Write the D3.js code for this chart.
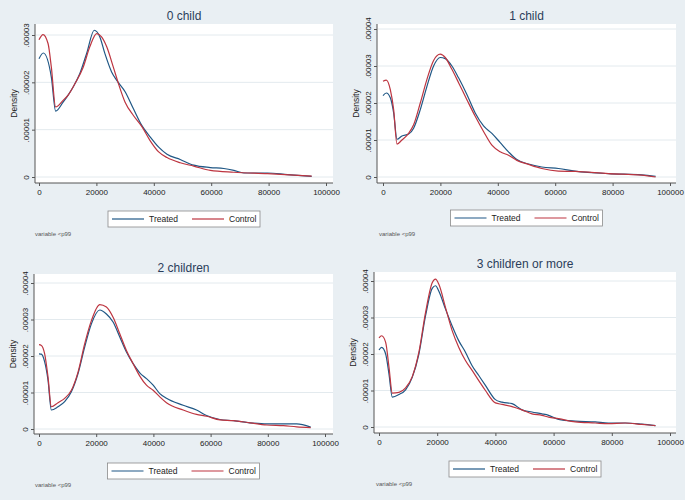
<!DOCTYPE html>
<html>
<head>
<meta charset="utf-8">
<script src="https://cdn.jsdelivr.net/npm/d3@7"></script>
<style>
  html, body { margin: 0; padding: 0; background: #e9eff3; }
  svg { display: block; font-family: "Liberation Sans", Arial, sans-serif; }
</style>
</head>
<body>
<svg id="chart" width="685" height="500"></svg>
<script>
// ---------- DATA (density values in units of 0.00001) ----------
const panelTitles = ["0 child", "1 child", "2 children", "3 children or more"];
const seriesNames = ["Treated", "Control"];
const noteText = "variable <p99";
const xTicks = [0, 20000, 40000, 60000, 80000, 100000];
const yTicksP1 = [0, 0.00001, 0.00002, 0.00003];
const yTicksP234 = [0, 0.00001, 0.00002, 0.00003, 0.00004];
const yTickLabels = {0: "0", 0.00001: ".00001", 0.00002: ".00002", 0.00003: ".00003", 0.00004: ".00004"};
const DENSITY_UNIT = 0.00001;

// Panel 1: 0 child
const incomeP1T = [0,1500,4300,5800,8400,10150,11900,14200,16600,19250,21200,23000,25300,27100,30000,32900,35800,38700,41700,44600,49200,53900,59700,64400,67900,71400,79600,86600,95000];
const treatedP1 = [2.50,2.62,2.11,1.39,1.58,1.73,1.90,2.18,2.61,3.10,2.96,2.60,2.22,2.04,1.80,1.44,1.09,0.85,0.63,0.48,0.37,0.25,0.20,0.18,0.14,0.085,0.085,0.05,0.015];
const incomeP1C = [0,1400,3150,4300,5800,8400,10150,12500,15400,17700,20100,21800,23600,25900,27700,30000,32900,35800,38700,41700,44600,49200,53900,59700,67900,79600,95000];
const controlP1 = [2.90,3.01,2.82,2.32,1.48,1.62,1.73,1.97,2.32,2.75,3.03,2.96,2.75,2.32,1.97,1.58,1.30,1.07,0.77,0.53,0.41,0.30,0.23,0.14,0.10,0.07,0.02];

// Panel 2: 1 child
const incomeP2 = [0,1160,2550,3710,4870,6610,8930,10670,12990,15310,17630,19950,21690,24010,26330,29230,32130,35030,37940,40840,43730,46640,50700,55340,61140,66940,78540,90140,95000];
const treatedP2 = [2.20,2.27,2.14,1.73,1.02,1.11,1.16,1.32,1.82,2.45,3.00,3.23,3.20,3.00,2.68,2.23,1.73,1.38,1.18,0.93,0.68,0.47,0.35,0.27,0.23,0.16,0.09,0.06,0.02];
const controlP2 = [2.59,2.62,2.36,1.82,0.89,1.00,1.18,1.41,2.00,2.64,3.15,3.32,3.23,2.91,2.55,2.09,1.64,1.23,0.86,0.68,0.59,0.45,0.34,0.23,0.16,0.15,0.09,0.05,0.00];

// Panel 3: 2 children
const incomeP3 = [0,820,1980,3150,4320,6650,8980,11320,13650,15990,18320,21240,23570,25900,28240,30570,32910,35240,37570,39910,42240,44570,50410,55080,58580,63250,67930,73770,79600,85430,90090,95000];
const treatedP3 = [2.06,2.05,1.84,1.34,0.52,0.61,0.75,1.02,1.52,2.25,2.88,3.26,3.15,2.93,2.52,2.11,1.79,1.54,1.38,1.20,0.97,0.84,0.65,0.52,0.37,0.26,0.23,0.17,0.14,0.14,0.14,0.05];
const controlP3 = [2.31,2.29,2.06,1.43,0.61,0.72,0.84,1.06,1.56,2.34,2.97,3.41,3.34,3.06,2.61,2.15,1.79,1.45,1.20,1.06,0.88,0.72,0.52,0.40,0.35,0.25,0.23,0.17,0.11,0.09,0.06,0.04];

// Panel 4: 3 children or more
const incomeP4 = [0,910,2290,3430,4570,6860,9140,11430,13710,16000,18290,19430,20570,22860,25140,27430,29710,32000,34290,36570,40000,42290,45710,49140,52570,56000,58290,61710,67430,74290,78860,84570,90290,95000];
const treatedP4 = [2.11,2.18,2.00,1.45,0.82,0.89,1.02,1.36,2.00,3.05,3.80,3.87,3.72,3.23,2.77,2.36,2.05,1.68,1.41,1.14,0.75,0.68,0.64,0.47,0.41,0.36,0.32,0.21,0.16,0.14,0.11,0.11,0.08,0.04];
const controlP4 = [2.44,2.50,2.32,1.64,0.93,0.95,1.07,1.38,2.05,3.14,3.95,4.05,3.91,3.27,2.64,2.18,1.82,1.55,1.27,1.00,0.66,0.62,0.56,0.47,0.36,0.32,0.27,0.23,0.14,0.11,0.09,0.11,0.07,0.04];

// ---------- LAYOUT ----------
const colors = { treated: "#1f5785", control: "#bd3540" };
const panels = [
  { title: panelTitles[0], xT: incomeP1T, t: treatedP1, xC: incomeP1C, c: controlP1, yTicks: yTicksP1, yMax: 0.00003,
    rect: [35, 24, 333, 183], x0: 39, x1: 326, y0: 177, y1: 35, titleY: 20, legendY: 211, noteX: 35, noteY: 236 },
  { title: panelTitles[1], xT: incomeP2, t: treatedP2, xC: incomeP2, c: controlP2, yTicks: yTicksP234, yMax: 0.00004,
    rect: [377, 24, 676, 183], x0: 383, x1: 670, y0: 177, y1: 29, titleY: 20, legendY: 210, noteX: 379, noteY: 236 },
  { title: panelTitles[2], xT: incomeP3, t: treatedP3, xC: incomeP3, c: controlP3, yTicks: yTicksP234, yMax: 0.00004,
    rect: [34, 274, 333, 434], x0: 39, x1: 325, y0: 429, y1: 283, titleY: 272, legendY: 463, noteX: 35, noteY: 487 },
  { title: panelTitles[3], xT: incomeP4, t: treatedP4, xC: incomeP4, c: controlP4, yTicks: yTicksP234, yMax: 0.00004,
    rect: [374, 272, 676, 433], x0: 379, x1: 670, y0: 427, y1: 281, titleY: 268, legendY: 461, noteX: 376, noteY: 486 }
];

const svg = d3.select("#chart");
svg.append("rect").attr("width", 685).attr("height", 500).attr("fill", "#e9eff3");

panels.forEach(p => {
  const g = svg.append("g");
  const [L, T, R, B] = p.rect;
  const x = d3.scaleLinear().domain([0, 100000]).range([p.x0, p.x1]);
  const y = d3.scaleLinear().domain([0, p.yMax]).range([p.y0, p.y1]);

  // plot region
  g.append("rect").attr("x", L).attr("y", T).attr("width", R - L).attr("height", B - T).attr("fill", "#ffffff");

  // gridlines
  g.selectAll(".grid").data(p.yTicks).enter().append("line")
    .attr("x1", L + 1).attr("x2", R).attr("y1", d => y(d)).attr("y2", d => y(d))
    .attr("stroke", "#e3eaee").attr("stroke-width", 1);

  // y axis
  const yAxis = d3.axisLeft(y).tickValues(p.yTicks).tickSize(3).tickPadding(3)
    .tickFormat(d => yTickLabels[d]);
  const ya = g.append("g").attr("transform", `translate(${L},0)`).call(yAxis);
  ya.select(".domain").attr("d", `M0,${T}V${B}`).attr("stroke", "#555");
  ya.selectAll(".tick line").attr("stroke", "#555");
  ya.selectAll(".tick text")
    .attr("transform", "rotate(-90)")
    .attr("x", 0).attr("y", 0).attr("dx", null).attr("dy", null)
    .attr("text-anchor", "middle")
    .attr("fill", "#222").attr("font-size", 8)
    .each(function(d) {
      d3.select(this).attr("transform", `translate(-6.5,0) rotate(-90)`);
    });

  // x axis
  const xAxis = d3.axisBottom(x).tickValues(xTicks).tickSize(3).tickPadding(3).tickFormat(d3.format("d"));
  const xa = g.append("g").attr("transform", `translate(0,${B})`).call(xAxis);
  xa.select(".domain").attr("d", `M${L},0H${R}`).attr("stroke", "#555");
  xa.selectAll(".tick line").attr("stroke", "#555");
  xa.selectAll(".tick text").attr("fill", "#222").attr("font-size", 8);

  // y title
  g.append("text")
    .attr("transform", `translate(${L - 18.5},${(T + B) / 2}) rotate(-90)`)
    .attr("text-anchor", "middle").attr("font-size", 8.5).attr("fill", "#222")
    .text("Density");

  // curves
  const line = d3.line().x(d => x(d[0])).y(d => y(d[1] * DENSITY_UNIT)).curve(d3.curveMonotoneX);
  g.append("path").datum(d3.zip(p.xT, p.t)).attr("d", line)
    .attr("fill", "none").attr("stroke", colors.treated).attr("stroke-width", 1.2);
  g.append("path").datum(d3.zip(p.xC, p.c)).attr("d", line)
    .attr("fill", "none").attr("stroke", colors.control).attr("stroke-width", 1.2);

  // title
  g.append("text").attr("x", (L + R) / 2).attr("y", p.titleY).attr("text-anchor", "middle")
    .attr("font-size", 12).attr("fill", "#2b3d5a").text(p.title);

  // legend
  const lw = 152, lh = 16;
  const lx = (L + R) / 2 - lw / 2;
  const lg = g.append("g").attr("transform", `translate(${lx},${p.legendY})`);
  lg.append("rect").attr("width", lw).attr("height", lh).attr("fill", "#fff").attr("stroke", "#8a8a8a").attr("stroke-width", 0.8);
  const items = [{ name: seriesNames[0], color: colors.treated, off: 4 }, { name: seriesNames[1], color: colors.control, off: 84 }];
  items.forEach(it => {
    lg.append("line").attr("x1", it.off).attr("x2", it.off + 32).attr("y1", lh / 2).attr("y2", lh / 2)
      .attr("stroke", it.color).attr("stroke-width", 1.2);
    lg.append("text").attr("x", it.off + 37).attr("y", lh / 2 + 3).attr("font-size", 8.5).attr("fill", "#222").text(it.name);
  });

  // note
  g.append("text").attr("x", p.noteX).attr("y", p.noteY).attr("font-size", 6).attr("fill", "#555").text(noteText);
});
</script>
</body>
</html>
